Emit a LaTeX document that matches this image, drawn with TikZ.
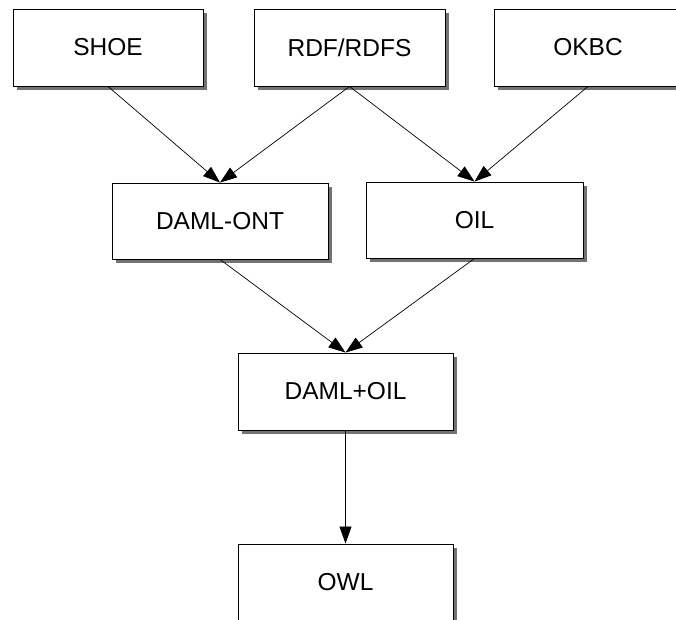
\documentclass[tikz,border=0pt]{standalone}
\usepackage{fontspec}
\setmainfont{Liberation Sans}
\usetikzlibrary{arrows.meta,shadows}
\begin{document}
\begin{tikzpicture}[x=1pt,y=-1pt,
  langbox/.style={draw=black, line width=0.9pt, fill=white, inner sep=0pt,
    minimum height=77pt,
    drop shadow={shadow xshift=4pt, shadow yshift=-4pt, fill=black!55, opacity=1},
    font=\fontsize{24.5}{28}\selectfont},
  link/.style={draw=black, line width=0.7pt,
    -{Triangle[length=17pt,width=12pt]}}
]
\useasboundingbox (0,0) rectangle (676,619);

% first generation of languages
\node[langbox, minimum width=190pt] (shoe) at (108,47.5) {SHOE};
\node[langbox, minimum width=191pt] (rdf)  at (349.5,47.5) {RDF/RDFS};
\node[langbox, minimum width=188pt] (okbc) at (588,47.5) {OKBC};

% intermediate ontology languages
\node[langbox, minimum width=216pt, minimum height=76pt] (damlont) at (220,221) {DAML-ONT};
\node[langbox, minimum width=217pt, minimum height=76pt] (oil)     at (474.5,220) {OIL};

% merged language and its successor
\node[langbox, minimum width=215pt] (damloil) at (345.5,391.5) {DAML+OIL};
\node[langbox, minimum width=215pt] (owl)     at (345.5,582.5) {OWL};

\draw[link] (shoe.south) -- (damlont.north);
\draw[link] (rdf.south)  -- (damlont.north);
\draw[link] (rdf.south)  -- (oil.north);
\draw[link] (okbc.south) -- (oil.north);
\draw[link] (damlont.south) -- (damloil.north);
\draw[link] (oil.south)     -- (damloil.north);
\draw[link] (damloil.south) -- (owl.north);
\end{tikzpicture}
\end{document}
